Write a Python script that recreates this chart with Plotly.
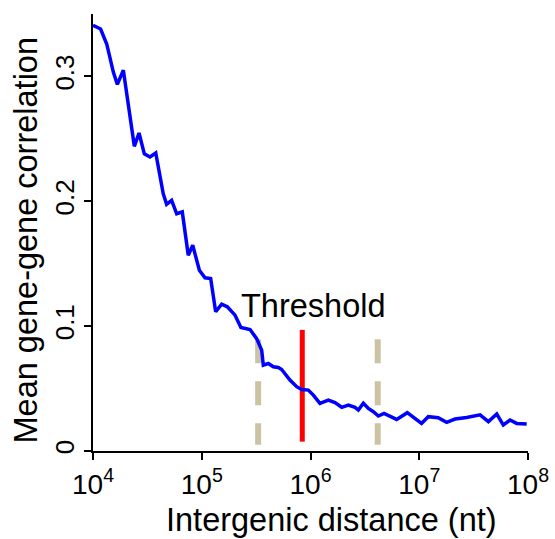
import plotly.graph_objects as go

# Curve: mean gene-gene correlation vs intergenic distance (nt)
distance_nt = [10000, 11750, 13370, 15380, 16750, 19010, 23990, 26490, 29650, 33420,
               37760, 42850, 44260, 47530, 52840, 58880, 66220, 75160, 82600, 95060,
               107150, 120780, 134280, 152410, 171790, 202300, 229100, 277970, 319900, 355600,
               368130, 409260, 454990, 505830, 543250, 647130, 746450, 829850, 954990, 1061700,
               1221800, 1458800, 1678800, 1936400, 2228400, 2564500, 2754200, 3062000, 3404100, 3784400,
               4207300, 4742500, 5382700, 6194400, 7762500, 10495000, 12106000, 14928000, 17865000, 21330000,
               27290000, 36224000, 43251000, 51642000, 59293000, 68391000, 78705000, 97275000]
mean_corr = [0.341, 0.338, 0.326, 0.3035, 0.2936, 0.305, 0.244, 0.2547, 0.238, 0.2355,
             0.2387, 0.2115, 0.206, 0.1976, 0.2008, 0.190, 0.1915, 0.1568, 0.1648, 0.1448,
             0.1387, 0.1381, 0.1115, 0.1176, 0.1155, 0.1088, 0.099, 0.0973, 0.090, 0.0808,
             0.0688, 0.0701, 0.0675, 0.0669, 0.0653, 0.0568, 0.0515, 0.0493, 0.0488, 0.0448,
             0.0382, 0.0408, 0.0387, 0.035, 0.0368, 0.035, 0.0328, 0.0382, 0.0341, 0.0315,
             0.028, 0.0301, 0.0275, 0.0253, 0.0307, 0.0221, 0.0275, 0.0267, 0.023, 0.0256,
             0.0269, 0.029, 0.0235, 0.0296, 0.0208, 0.0248, 0.0221, 0.0216]

threshold_x = 840000
threshold_y = [0.097, 0.0075]
flank_x = [330000, 4150000]
flank_y = [0.0895, 0.005]

x_ticks = [1e4, 1e5, 1e6, 1e7, 1e8]
x_ticktext = ["10<sup>4</sup>", "10<sup>5</sup>", "10<sup>6</sup>", "10<sup>7</sup>", "10<sup>8</sup>"]
y_ticks = [0, 0.1, 0.2, 0.3]
y_ticktext = ["0", "0.1", "0.2", "0.3"]

FONT = "Liberation Sans, Arial, sans-serif"

fig = go.Figure()
for fx in flank_x:
    fig.add_trace(go.Scatter(x=[fx, fx], y=flank_y, mode="lines",
                             line=dict(color="#CCC3A3", width=6, dash="24px,18px"),
                             hoverinfo="skip", showlegend=False))
fig.add_trace(go.Scatter(x=[threshold_x, threshold_x], y=threshold_y, mode="lines",
                         line=dict(color="#FF0000", width=5),
                         hoverinfo="skip", showlegend=False))
fig.add_trace(go.Scatter(x=distance_nt, y=mean_corr, mode="lines",
                         line=dict(color="#0000FF", width=3.5),
                         showlegend=False))

fig.add_annotation(x=6.028, y=0.1165, xref="x", yref="y", text="Threshold",
                   showarrow=False, font=dict(family=FONT, size=32.5, color="black"),
                   xanchor="center", yanchor="middle")
fig.add_annotation(x=0.5, y=0, xref="paper", yref="paper", yshift=-69, xshift=21,
                   text="Intergenic distance (nt)", showarrow=False,
                   font=dict(family=FONT, size=32.5, color="black"),
                   xanchor="center", yanchor="middle")
fig.add_annotation(x=0, y=0.5, xref="paper", yref="paper", xshift=-68, yshift=-8,
                   text="Mean gene-gene correlation", showarrow=False, textangle=-90,
                   font=dict(family=FONT, size=32.5, color="black"),
                   xanchor="center", yanchor="middle")

fig.update_layout(
    width=555, height=539,
    margin=dict(l=93, r=27, t=14, b=88),
    paper_bgcolor="white", plot_bgcolor="white",
    font=dict(family=FONT, color="black"),
)
fig.update_xaxes(type="log", range=[4, 8], tickvals=x_ticks, ticktext=x_ticktext,
                 automargin=False,
                 showgrid=False, zeroline=False, showline=True, linecolor="black", linewidth=2,
                 ticks="outside", ticklen=7, tickwidth=2, tickcolor="black",
                 tickfont=dict(family=FONT, size=28, color="black"))
fig.update_yaxes(range=[0, 0.35], tickvals=y_ticks, ticktext=y_ticktext, tickangle=-90,
                 automargin=False,
                 showgrid=False, zeroline=False, showline=True, linecolor="black", linewidth=2,
                 ticks="outside", ticklen=7, tickwidth=2, tickcolor="black",
                 tickfont=dict(family=FONT, size=26, color="black"))

fig.write_html("out.html")
